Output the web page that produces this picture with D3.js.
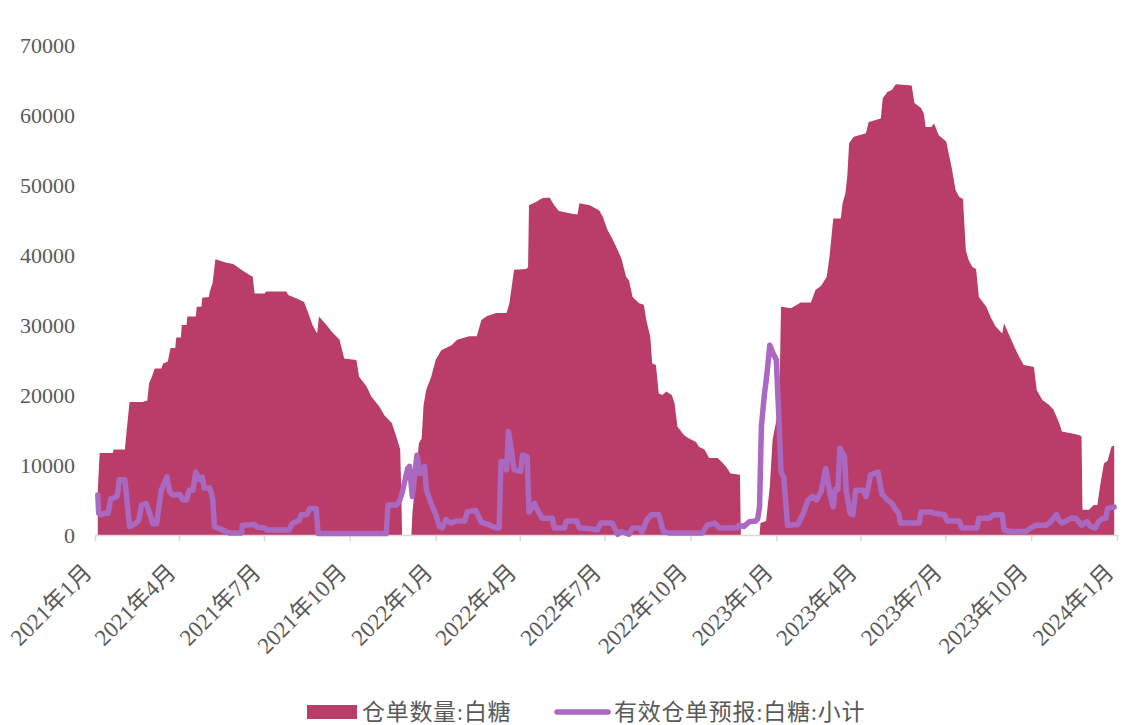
<!DOCTYPE html>
<html>
<head>
<meta charset="utf-8">
<script src="https://cdn.jsdelivr.net/npm/d3@7"></script>
<style>
  html, body { margin: 0; padding: 0; background: #ffffff; }
  svg { display: block; }
  .lbl { font-family: "Liberation Serif", "Noto Sans CJK SC", serif; fill: #595959; }
</style>
</head>
<body>
<svg id="chart" width="1122" height="725"></svg>
<script>
// 仓单数量:白糖 — dates and values
const receiptDates = [
  "2021-01-04","2021-01-06","2021-01-20","2021-01-21","2021-02-02","2021-02-04","2021-02-07","2021-02-21",
  "2021-02-26","2021-02-28","2021-03-03","2021-03-06","2021-03-13","2021-03-15","2021-03-20","2021-03-23",
  "2021-03-28","2021-03-29","2021-04-03","2021-04-04","2021-04-09","2021-04-10","2021-04-19","2021-04-20",
  "2021-04-25","2021-04-26","2021-05-03","2021-05-04","2021-05-07","2021-05-10","2021-05-22","2021-05-29",
  "2021-06-08","2021-06-16","2021-06-19","2021-06-21","2021-07-02","2021-07-03","2021-07-25","2021-07-27",
  "2021-08-05","2021-08-13","2021-08-17","2021-08-22","2021-08-27","2021-08-29","2021-09-06","2021-09-12",
  "2021-09-20","2021-09-25","2021-10-08","2021-10-11","2021-10-19","2021-10-24","2021-11-02","2021-11-07",
  "2021-11-15","2021-11-20","2021-11-24","2021-11-25","2021-11-26","2021-12-06","2021-12-07","2021-12-12",
  "2021-12-14","2021-12-17","2021-12-19","2021-12-22","2021-12-27","2022-01-01","2022-01-07","2022-01-18",
  "2022-01-24","2022-02-06","2022-02-14","2022-02-19","2022-02-25","2022-03-07","2022-03-18","2022-03-21",
  "2022-03-26","2022-04-08","2022-04-10","2022-04-11","2022-04-19","2022-04-25","2022-05-03","2022-05-08",
  "2022-05-13","2022-05-27","2022-06-02","2022-06-04","2022-06-15","2022-06-22","2022-06-25","2022-06-29",
  "2022-07-04","2022-07-09","2022-07-15","2022-07-19","2022-07-24","2022-07-27","2022-07-31","2022-08-07",
  "2022-08-12","2022-08-15","2022-08-19","2022-08-21","2022-08-25","2022-08-28","2022-09-01","2022-09-05",
  "2022-09-11","2022-09-14","2022-09-17","2022-09-24","2022-09-28","2022-10-07","2022-10-10","2022-10-16",
  "2022-10-21","2022-10-30","2022-11-03","2022-11-08","2022-11-13","2022-11-23","2022-11-24","2022-12-14",
  "2022-12-15","2022-12-21","2022-12-25","2022-12-28","2023-01-01","2023-01-04",
  "2023-01-06","2023-01-17","2023-01-27","2023-02-07","2023-02-12","2023-02-18","2023-02-24","2023-02-27",
  "2023-03-03","2023-03-11","2023-03-13","2023-03-16","2023-03-18","2023-03-20","2023-03-25","2023-04-07",
  "2023-04-10","2023-04-23","2023-04-25","2023-04-30","2023-05-05","2023-05-09","2023-05-20","2023-05-26",
  "2023-05-29","2023-06-05","2023-06-08","2023-06-10","2023-06-16","2023-06-19","2023-06-24","2023-07-02",
  "2023-07-05","2023-07-08","2023-07-12","2023-07-16","2023-07-20","2023-07-23","2023-07-26","2023-07-30",
  "2023-08-03","2023-08-06","2023-08-14","2023-08-19","2023-08-24","2023-08-31","2023-09-02","2023-09-07",
  "2023-09-13","2023-09-18","2023-09-23","2023-10-04","2023-10-07","2023-10-13","2023-10-20","2023-10-25",
  "2023-10-31","2023-11-03","2023-11-14","2023-11-21","2023-11-24","2023-11-25","2023-12-02","2023-12-07",
  "2023-12-11","2023-12-14","2023-12-18","2023-12-22","2023-12-26","2023-12-29"
];
const receiptValues = [
  6400,11700,11700,12200,12200,15000,19000,19000,
  19200,21700,22600,23800,23800,24500,24800,26700,
  26700,28200,28200,30000,30000,31200,31200,32600,
  32600,33900,34000,34800,36000,39400,38900,38700,
  37800,37100,36900,34500,34500,34800,34800,34300,
  33800,33300,31900,30000,28800,31200,30000,29000,
  27900,25200,25000,22600,21200,19800,18300,17100,
  16000,14000,12200,7000,0,0,3000,10000,
  13100,13800,18500,20800,22500,25000,26400,27100,
  27900,28400,28400,30700,31300,31700,31700,33100,
  37900,38000,38300,47100,47600,48100,48200,47100,
  46300,45900,45800,47400,47100,46600,46400,45500,
  43600,42400,40700,39500,36900,36400,34000,33100,
  32900,30500,28300,24500,24300,20200,20000,20500,
  20000,18800,15500,14300,13900,13300,12600,12200,
  11000,11000,10500,9800,8800,8600,0,0,
  1700,2000,6900,13600,16400,17500,
  32600,32400,33200,33200,35000,35600,36900,39800,
  45200,45200,47400,48800,51200,56000,56900,57400,
  59000,59500,62400,63300,63600,64400,64300,64200,
  61700,61000,60200,58300,58300,58800,57100,56200,
  54300,52400,49300,48300,48000,40700,39300,38300,
  38000,34000,32600,31000,29800,28800,30200,28700,
  26900,25500,24300,24000,20700,19300,18600,17900,
  16000,14800,14500,14300,14100,3600,3600,4300,
  4300,7100,10200,10600,12600,12800
];

// 有效仓单预报:白糖:小计 — dates and values
const forecastDates = [
  "2021-01-04","2021-01-05","2021-01-08","2021-01-11","2021-01-15","2021-01-18","2021-01-22","2021-01-25",
  "2021-01-27","2021-02-02","2021-02-04","2021-02-07","2021-02-13","2021-02-17","2021-02-20","2021-02-25",
  "2021-03-01","2021-03-04","2021-03-08","2021-03-13","2021-03-19","2021-03-22","2021-03-25","2021-04-02",
  "2021-04-05","2021-04-09","2021-04-12","2021-04-16","2021-04-19","2021-04-23","2021-04-26","2021-04-28",
  "2021-05-04","2021-05-07","2021-05-09","2021-05-18","2021-05-25","2021-06-07","2021-06-08","2021-06-21",
  "2021-06-24","2021-07-02","2021-07-04","2021-07-28","2021-07-31","2021-08-08","2021-08-10","2021-08-16",
  "2021-08-19","2021-08-26","2021-08-28","2021-11-09","2021-11-11","2021-11-20","2021-11-23","2021-11-26",
  "2021-12-02","2021-12-04","2021-12-07","2021-12-09","2021-12-12","2021-12-15","2021-12-20","2021-12-22",
  "2021-12-27","2022-01-01","2022-01-05","2022-01-08","2022-01-12","2022-01-17","2022-01-23","2022-02-01",
  "2022-02-04","2022-02-13","2022-02-19","2022-02-28","2022-03-07","2022-03-10","2022-03-12","2022-03-17",
  "2022-03-18","2022-03-20","2022-03-24","2022-03-26","2022-04-02","2022-04-04","2022-04-09","2022-04-11",
  "2022-04-17","2022-04-20","2022-04-25","2022-05-06","2022-05-08","2022-05-19","2022-05-21","2022-06-01",
  "2022-06-04","2022-06-15","2022-06-23","2022-06-27","2022-07-09","2022-07-15","2022-07-19","2022-07-27",
  "2022-07-31","2022-08-07","2022-08-10","2022-08-15","2022-08-20","2022-08-28","2022-09-02","2022-09-08",
  "2022-10-14","2022-10-19","2022-10-27","2022-11-01","2022-11-19","2022-11-22","2022-11-27","2022-12-03",
  "2022-12-10","2022-12-12","2022-12-14","2022-12-16","2022-12-19","2022-12-22","2022-12-25","2022-12-28",
  "2023-01-01","2023-01-04","2023-01-06","2023-01-09","2023-01-13","2023-01-24","2023-01-30","2023-02-04","2023-02-09",
  "2023-02-13","2023-02-18","2023-02-23","2023-02-28","2023-03-03","2023-03-05","2023-03-08","2023-03-10",
  "2023-03-15","2023-03-17","2023-03-21","2023-03-24","2023-03-27","2023-04-04","2023-04-07","2023-04-09",
  "2023-04-12","2023-04-20","2023-04-24","2023-04-30","2023-05-05","2023-05-09","2023-05-12","2023-05-14",
  "2023-06-03","2023-06-05","2023-06-16","2023-06-19","2023-06-30","2023-07-03","2023-07-16","2023-07-19",
  "2023-08-04","2023-08-06","2023-08-17","2023-08-22","2023-08-31","2023-09-02","2023-09-09","2023-09-25",
  "2023-10-01","2023-10-06","2023-10-17","2023-10-22","2023-10-28","2023-10-31","2023-11-03","2023-11-13",
  "2023-11-18","2023-11-21","2023-11-24","2023-11-30","2023-12-04","2023-12-09","2023-12-12","2023-12-17",
  "2023-12-20","2023-12-22","2023-12-29"
];
const forecastValues = [
  5700,3100,2900,3100,3100,5200,5300,5600,
  7900,7900,5300,1200,1600,2100,4300,4500,
  2900,1600,1600,6400,8300,6200,5700,5800,
  5000,5000,6400,6400,9000,7900,8300,6700,
  6700,5300,1200,700,300,300,1400,1500,
  1100,1000,700,700,1600,2100,2900,2900,
  3800,3800,200,200,4300,4300,4800,6000,
  9500,9800,5500,7900,11400,8800,9800,6500,
  4500,3000,1200,1000,2200,1700,2000,2000,
  3300,3500,1800,1400,1000,1000,10500,10500,
  9300,14800,11300,9300,9100,11400,11200,3300,
  4500,3600,2400,2400,1000,1000,2000,2000,
  1000,900,700,1700,1700,100,500,100,
  1000,1000,400,2100,2900,2900,500,300,
  300,1400,1700,1000,1000,1400,1200,1900,
  2000,2300,4000,15500,19800,23100,27100,26100,
  25000,16000,9000,8300,1400,1500,3100,5000,5500,
  5000,6200,9500,5500,4000,6500,6500,12400,
  11200,6200,3100,2900,6400,6400,5500,6500,
  8600,9000,5900,5000,4500,3600,3100,1700,
  1700,3300,3300,3100,2900,2000,2000,1000,
  1000,2400,2400,2900,2900,700,500,500,
  1000,1400,1400,1900,2900,2100,1700,2400,
  2400,1900,1400,1900,1200,1000,1900,2400,
  2400,3800,4000
];

const yTicks = [0, 10000, 20000, 30000, 40000, 50000, 60000, 70000];
const seriesNames = ["仓单数量:白糖", "有效仓单预报:白糖:小计"];

const parse = d3.timeParse("%Y-%m-%d");
const receipts = receiptDates.map((d, i) => ({ date: parse(d), value: receiptValues[i] }));
const forecasts = forecastDates.map((d, i) => ({ date: parse(d), value: forecastValues[i] }));

const areaColor = "#B93D68";
const lineColor = "#AA68C0";
const textColor = "#595959";

const svg = d3.select("#chart");

const x = d3.scaleTime()
  .domain([new Date(2021, 0, 1), new Date(2024, 0, 1)])
  .range([95, 1117]);
const y = d3.scaleLinear()
  .domain([0, 70000])
  .range([535, 45]);

// Warehouse receipt area
const area = d3.area()
  .x(d => x(d.date))
  .y0(y(0))
  .y1(d => y(d.value));
svg.append("path")
  .datum(receipts)
  .attr("fill", areaColor)
  .attr("d", area);

// X axis: quarterly ticks
const xAxis = d3.axisBottom(x)
  .tickValues(d3.timeMonth.every(3).range(new Date(2021, 0, 1), new Date(2024, 0, 2)))
  .tickSize(6)
  .tickSizeOuter(0)
  .tickFormat(d => `${d.getFullYear()}年${d.getMonth() + 1}月`);
const gx = svg.append("g")
  .attr("transform", `translate(0,${y(0)})`)
  .call(xAxis);
gx.select(".domain").attr("stroke", "#d9d9d9").attr("stroke-width", 1.5);
gx.selectAll(".tick line").attr("stroke", "#d9d9d9").attr("stroke-width", 1.5);
gx.selectAll(".tick text")
  .attr("class", "lbl")
  .attr("font-size", 23)
  .attr("text-anchor", "end")
  .attr("dy", null)
  .attr("y", null)
  .attr("transform", "translate(-6,35) rotate(-45)")
  .attr("dominant-baseline", "middle")
  .style("fill", textColor);

// Forecast line
const line = d3.line()
  .x(d => x(d.date))
  .y(d => y(d.value));
svg.append("path")
  .datum(forecasts)
  .attr("fill", "none")
  .attr("stroke", lineColor)
  .attr("stroke-width", 5.5)
  .attr("stroke-linejoin", "round")
  .attr("stroke-linecap", "round")
  .attr("d", line);

// Y axis labels
const yAxis = d3.axisLeft(y)
  .tickValues(yTicks)
  .tickSize(0)
  .tickPadding(0)
  .tickFormat(d3.format("d"));
const gy = svg.append("g")
  .attr("transform", "translate(75,0)")
  .call(yAxis);
gy.select(".domain").remove();
gy.selectAll(".tick text")
  .attr("class", "lbl")
  .attr("font-size", 22)
  .style("fill", textColor);

// Legend
const legend = svg.append("g").attr("transform", "translate(0,712)");
legend.append("rect")
  .attr("x", 307).attr("y", -7).attr("width", 50).attr("height", 14)
  .attr("fill", areaColor);
legend.append("text")
  .attr("class", "lbl")
  .attr("x", 362).attr("y", 0)
  .attr("dominant-baseline", "central")
  .attr("font-size", 23)
  .attr("letter-spacing", 0.7)
  .style("fill", textColor)
  .text(seriesNames[0]);
legend.append("line")
  .attr("x1", 557).attr("x2", 608).attr("y1", 0).attr("y2", 0)
  .attr("stroke", lineColor).attr("stroke-width", 5.5).attr("stroke-linecap", "round");
legend.append("text")
  .attr("class", "lbl")
  .attr("x", 614).attr("y", 0)
  .attr("dominant-baseline", "central")
  .attr("font-size", 23)
  .attr("letter-spacing", 0.7)
  .style("fill", textColor)
  .text(seriesNames[1]);
</script>
</body>
</html>
